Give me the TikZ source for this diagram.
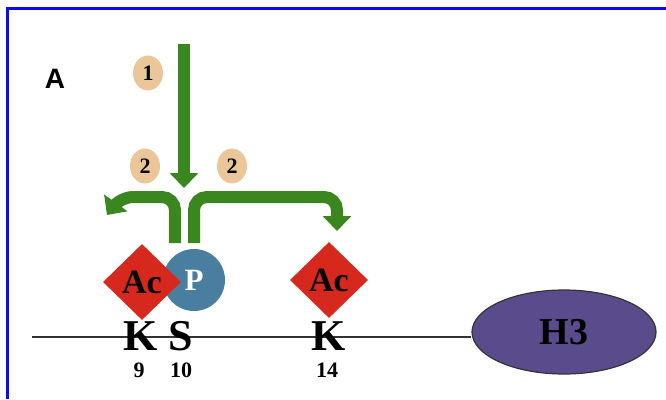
\documentclass[tikz,border=0pt]{standalone}
\usepackage{fontspec}
\setmainfont{Liberation Serif}
\newfontfamily\labsans{Liberation Sans}
\usetikzlibrary{shapes.geometric,arrows.meta}
\definecolor{arrowgreen}{RGB}{58,135,32}
\definecolor{acred}{RGB}{214,40,28}
\definecolor{pblue}{RGB}{74,126,160}
\definecolor{hpurple}{RGB}{90,76,140}
\definecolor{badgetan}{RGB}{234,198,152}
\definecolor{framblue}{RGB}{10,10,250}
\begin{document}
\begin{tikzpicture}[x=1pt,y=-1pt,
  garrow/.style={draw=arrowgreen, line width=12pt, rounded corners=13pt, -{Triangle[width=28pt,length=15pt]}},
  badge/.style={ellipse, fill=badgetan, minimum width=30pt, minimum height=35pt, inner sep=0pt, font=\fontsize{22}{22}\selectfont\bfseries},
  acbox/.style={diamond, fill=acred, minimum width=78pt, minimum height=76pt, inner sep=0pt, font=\fontsize{34}{34}\selectfont\bfseries},
  pcirc/.style={circle, fill=pblue, minimum size=62pt, inner sep=0pt, text=white, font=\fontsize{31}{31}\selectfont\bfseries},
  residue/.style={anchor=base, inner sep=0pt, font=\fontsize{44}{44}\selectfont\bfseries},
  resnum/.style={anchor=base, inner sep=0pt, font=\fontsize{22}{22}\selectfont\bfseries},
  histone/.style={ellipse, draw=black!80, line width=1.2pt, fill=hpurple, minimum width=184pt, minimum height=84pt, inner sep=0pt, font=\fontsize{38}{38}\selectfont\bfseries}
]
\useasboundingbox (0,0) rectangle (666,399);
\fill[white] (0,0) rectangle (666,399);
\draw[framblue, line width=3pt] (7.5,399) -- (7.5,8.5) -- (666,8.5);

\node[anchor=base, font=\labsans\fontsize{28}{28}\selectfont\bfseries] (lblA) at (55,88) {A};

% badges
\node[badge] (b1) at (148,73) {1};
\node[badge] (b2l) at (145,166) {2};
\node[badge] (b2r) at (232,166) {2};

% green arrows
\coordinate (vtop) at (184,44);
\coordinate (vtip) at (184,188);
\draw[garrow] (vtop) -- (vtip);

\coordinate (lbot) at (175,243);
\coordinate (lcorner) at (175,197);
\coordinate (lrun) at (120,197);
\coordinate (ltip) at (107,215);
\draw[garrow] (lbot) -- (lcorner) -- (lrun) -- (ltip);

\coordinate (rbot) at (194,243);
\coordinate (rcorner) at (194,197);
\coordinate (rrun) at (337,197);
\coordinate (rtip) at (337,231);
\draw[garrow] (rbot) -- (rcorner) -- (rrun) -- (rtip);

% backbone line and H3
\node[histone] (h3) at (564,332) {H3};
\coordinate (lstart) at (32,337);
\draw[black!80, line width=1.8pt] (lstart) -- (h3.west |- lstart);

% modifications
\node[pcirc] (pmark) at (194,280) {P};
\node[acbox] (ac9) at (142,282) {Ac};
\node[acbox] (ac14) at (329,280) {Ac};

% residues
\node[residue] (k9) at (141,350) {K};
\node[residue] (s10) at (181,350) {S};
\node[residue] (k14) at (329,350) {K};
\node[resnum] (n9) at (139,377) {9};
\node[resnum] (n10) at (181,377) {10};
\node[resnum] (n14) at (327,377) {14};
\end{tikzpicture}
\end{document}
